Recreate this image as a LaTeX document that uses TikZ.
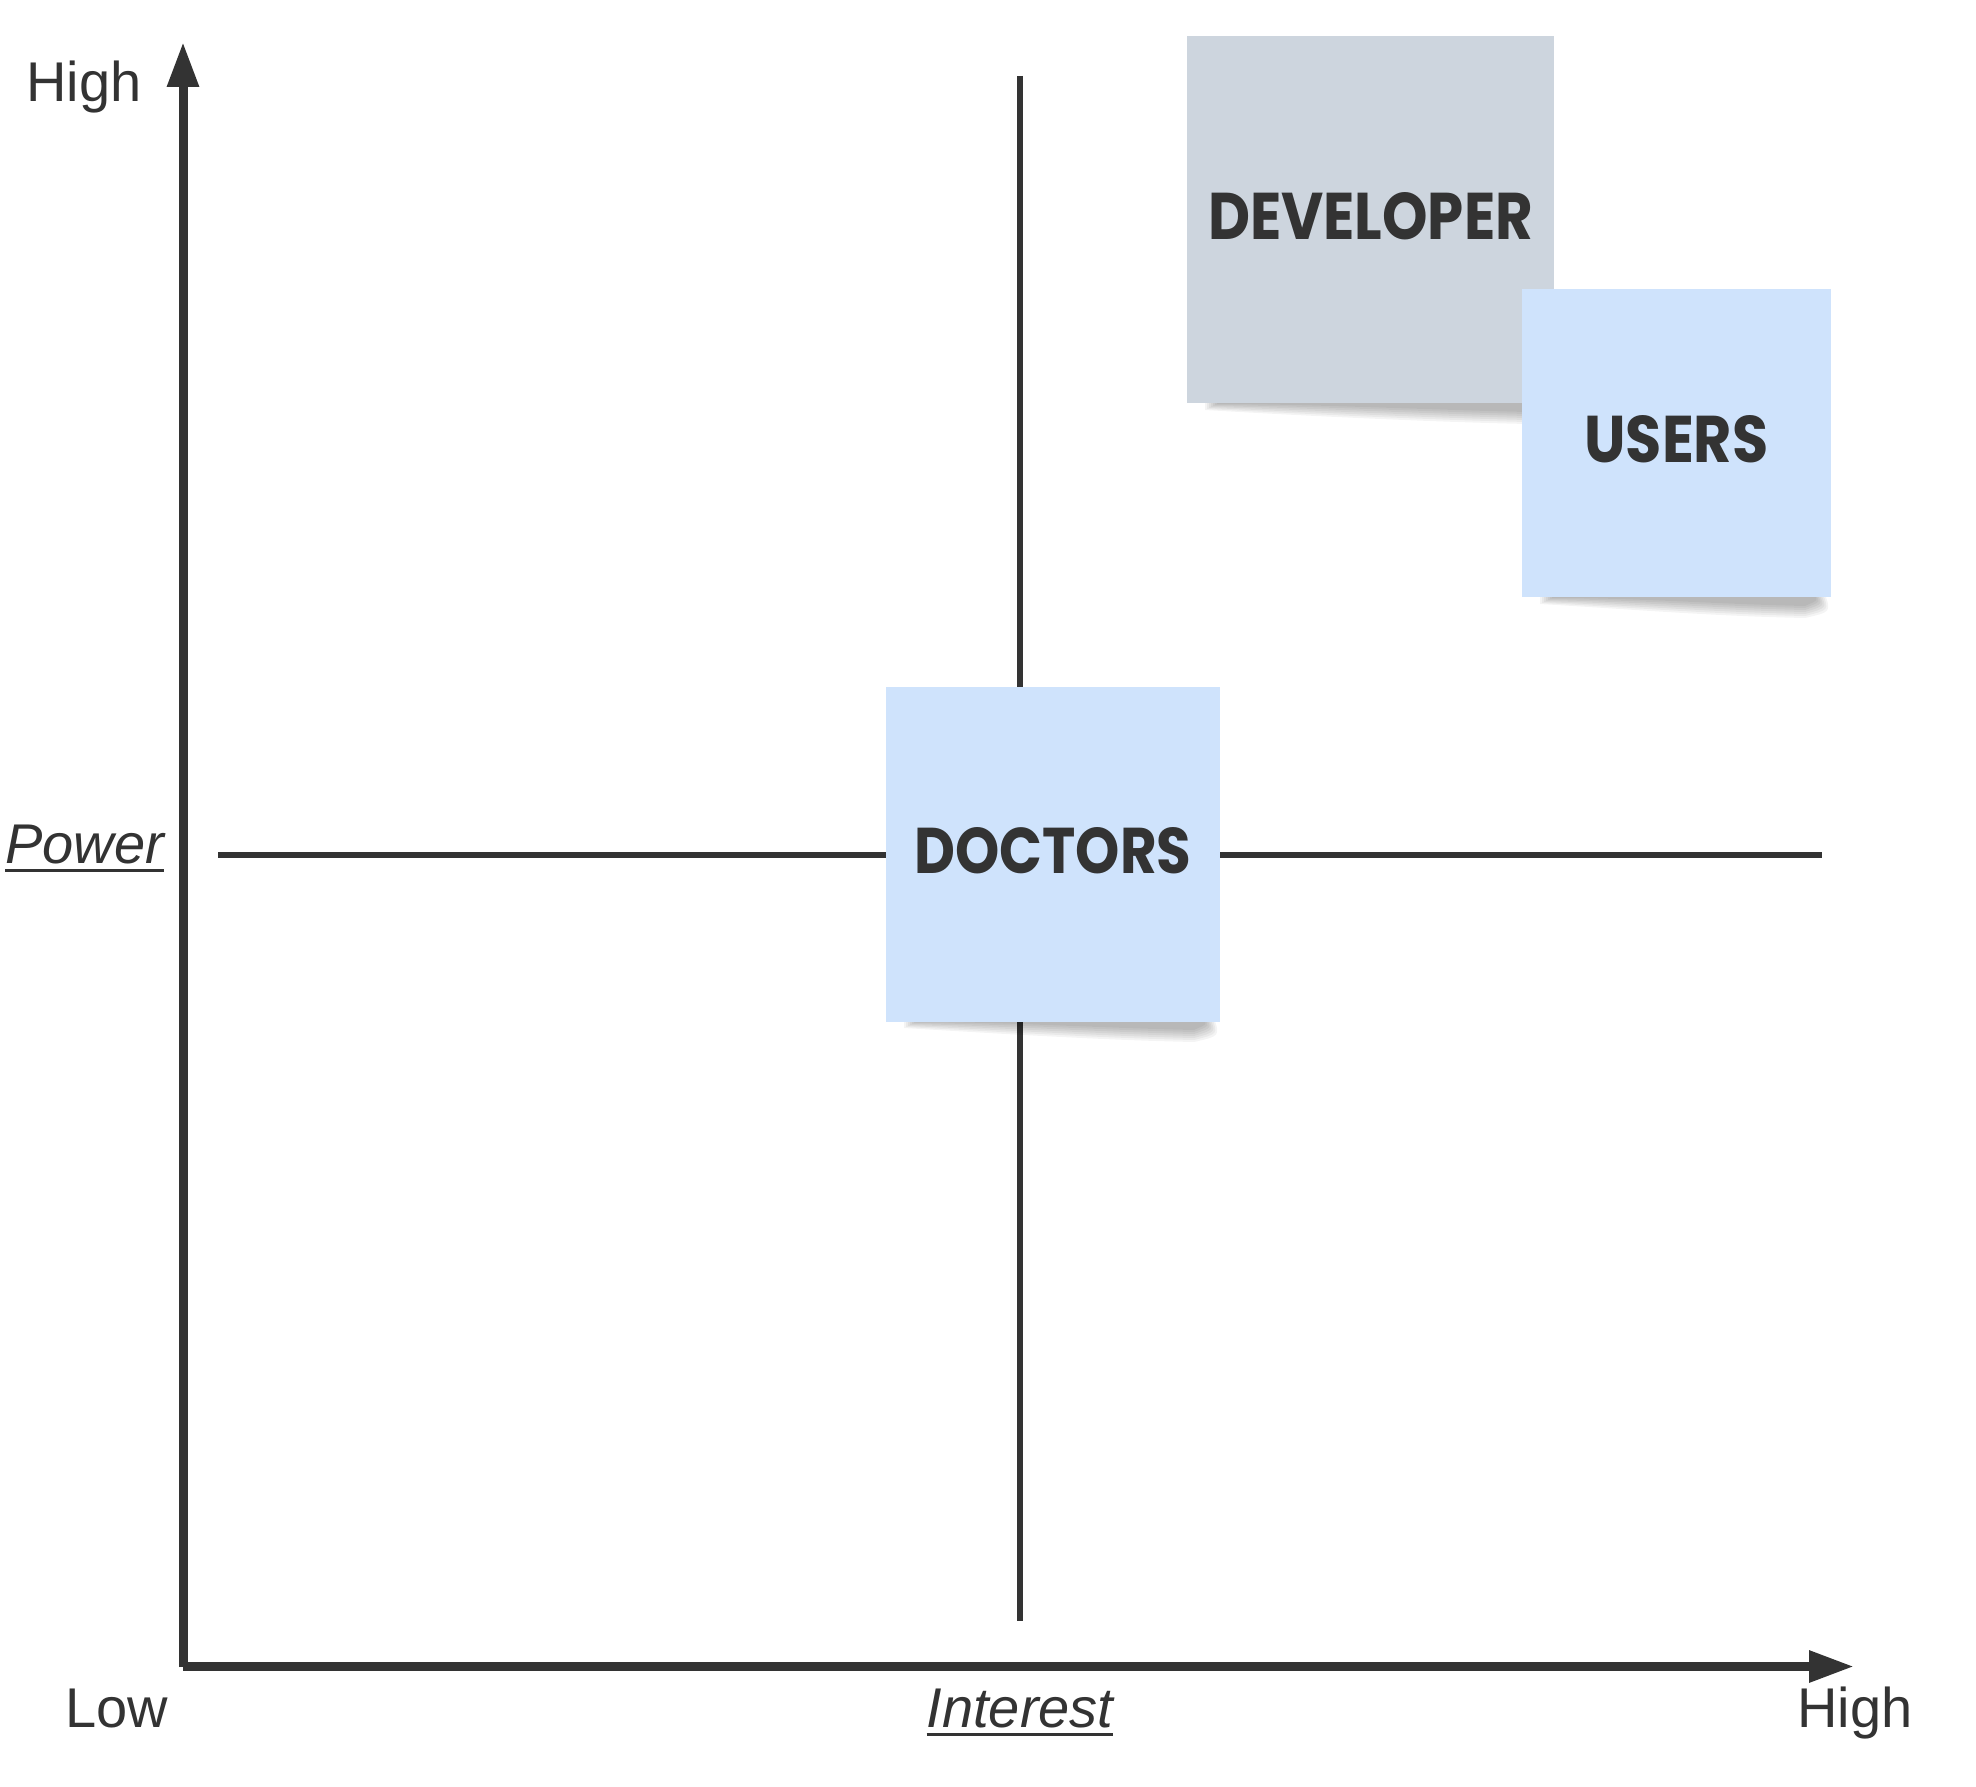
\documentclass[tikz,border=0pt]{standalone}
\usepackage{fontspec}
\setmainfont{Liberation Sans}
\newfontfamily\notefont{Poppins}
\usetikzlibrary{arrows.meta}
\definecolor{ink}{HTML}{333333}
\definecolor{devgray}{HTML}{CDD5DE}
\definecolor{noteblue}{HTML}{CFE3FC}
\newcommand\ulword[1]{\setbox0\hbox{#1}\rlap{\rule[-9pt]{\wd0}{3pt}}\box0}
\newcommand\noteshadow[3]{% left, right, bottom
  \foreach \i in {0,2,...,12}{
    \fill[black,opacity=0.045]
      ({#1+30-\i},{#3-3}) -- ({#2-18+\i},{#3-3})
      .. controls ({#2-12+\i},{#3+3+\i}) .. ({#2-26},{#3+9+\i})
      .. controls ({#2-120},{#3+7+\i}) and ({#1+120},{#3+1+\i}) .. ({#1+30-\i},{#3+1+0.5*\i}) -- cycle;
  }}
\begin{document}
\begin{tikzpicture}[x=1pt,y=-1pt,
  axis/.style={draw=ink,line width=9pt},
  quad/.style={draw=ink,line width=6pt},
  note/.style={rectangle,inner sep=0pt,text=ink,font=\notefont\bfseries},
  lbl/.style={text=ink,font=\fontsize{56}{62}\selectfont,inner sep=0pt}]
\useasboundingbox (0,0) rectangle (1976,1787);
\fill[white] (0,0) rectangle (1976,1787);

% coordinates
\coordinate (O) at (183,1666.5);
\coordinate (ytip) at (183,42);
\coordinate (xtip) at (1854,1666.5);
\coordinate (vtop) at (1019.5,76);
\coordinate (vbot) at (1019.5,1621);
\coordinate (hl) at (218,854.5);
\coordinate (hr) at (1822,854.5);

% quadrant lines
\draw[quad] (vtop) -- (vbot);
\draw[quad] (hl) -- (hr);

% axes
\draw[axis,-{Triangle[length=45pt,width=30pt]}] ([yshift=-0.5pt]O) -- (ytip);
\draw[axis,-{Triangle[length=45pt,width=30pt]}] (O) -- (xtip);

% axis labels
\node[lbl,anchor=base west] (yhigh) at (26,102) {High};
\node[lbl,anchor=base west] (power) at (5,863) {\itshape\ulword{Power}};
\node[lbl,anchor=base west] (low) at (65,1727) {Low};
\node[lbl,anchor=base] (interest) at (1020,1727) {\itshape\ulword{Interest}};
\node[lbl,anchor=base] (xhigh) at (1855,1727) {High};

% notes
\noteshadow{1187}{1554}{403}
\node[note,fill=devgray,minimum width=367pt,minimum height=367pt] (dev) at (1370.5,219.75)
  {\raisebox{7pt}{\resizebox{325pt}{47pt}{DEVELOPER}}};
\noteshadow{1522}{1831}{597}
\node[note,fill=noteblue,minimum width=309pt,minimum height=308pt] (users) at (1676.5,443)
  {\raisebox{8pt}{\resizebox{184pt}{47pt}{USERS}}};
\noteshadow{886}{1220}{1021}
\node[note,fill=noteblue,minimum width=334pt,minimum height=335pt] (doctors) at (1053,854)
  {\raisebox{7pt}{\resizebox{277pt}{46pt}{DOCTORS}}};
\end{tikzpicture}
\end{document}
